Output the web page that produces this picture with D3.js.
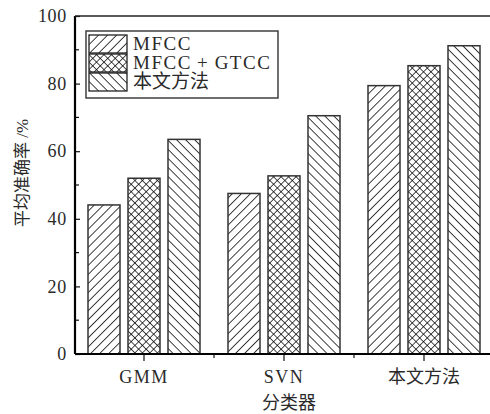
<!DOCTYPE html>
<html>
<head>
<meta charset="utf-8">
<style>
  body { margin: 0; background: #fff; }
  text { font-family: "Liberation Serif", "Noto Sans CJK SC", serif; fill: #2a2a2a; }
</style>
<script src="https://d3js.org/d3.v7.min.js"></script>
</head>
<body>
<svg></svg>
<script>
const categories = ['GMM', 'SVN', '本文方法'];
const series = ['MFCC', 'MFCC\u2009+\u2009GTCC', '本文方法'];
const mfcc = [44.1, 47.5, 79.4];
const mfccGtcc = [52.0, 52.7, 85.3];
const ours = [63.5, 70.5, 91.2];
const yTicks = [0, 20, 40, 60, 80, 100];
const yMinor = [10, 30, 50, 70, 90];
const values = [mfcc, mfccGtcc, ours];

const width = 490, height = 414;
const mLeft = 75, mTop = 16, mBottom = 354, mRight = 494;

const svg = d3.select('svg').attr('width', width).attr('height', height);

// hatch patterns
const defs = svg.append('defs');
function hatch(id, angle, size, sw, cross) {
  const p = defs.append('pattern')
    .attr('id', id)
    .attr('patternUnits', 'userSpaceOnUse')
    .attr('width', size).attr('height', size)
    .attr('patternTransform', 'rotate(' + angle + ')');
  p.append('rect').attr('width', size).attr('height', size).attr('fill', '#fff');
  p.append('line').attr('x1', 0).attr('y1', 0).attr('x2', 0).attr('y2', size)
    .attr('stroke', '#000').attr('stroke-width', sw);
  if (cross) {
    p.append('line').attr('x1', 0).attr('y1', 0).attr('x2', size).attr('y2', 0)
      .attr('stroke', '#000').attr('stroke-width', sw);
  }
}
hatch('p0', 45, 6.4, 1.5, false);
hatch('p1', 45, 5.3, 1.4, true);
hatch('p2', -45, 6.4, 1.5, false);
const fills = ['url(#p0)', 'url(#p1)', 'url(#p2)'];

const y = d3.scaleLinear().domain([0, 100]).range([mBottom, mTop]);
const x0 = d3.scaleBand().domain(categories).range([mLeft - 1, mRight]);
const x1 = d3.scaleBand().domain(series).range([-60, 60]).paddingInner(0.2).paddingOuter(0.1);

// bars
categories.forEach((c, ci) => {
  const cx = x0(c) + x0.bandwidth() / 2;
  svg.append('g').selectAll('rect')
    .data(series)
    .join('rect')
    .attr('x', s => cx + x1(s))
    .attr('y', (s, si) => y(values[si][ci]))
    .attr('width', x1.bandwidth())
    .attr('height', (s, si) => mBottom - y(values[si][ci]))
    .attr('fill', (s, si) => fills[si])
    .attr('stroke', '#333')
    .attr('stroke-width', 1.5);
});

// y axis
const yAxis = d3.axisLeft(y).tickValues(yTicks).tickSize(-5).tickPadding(8);
const gy = svg.append('g').attr('transform', 'translate(' + mLeft + ',0)').call(yAxis);
gy.select('.domain').remove();
gy.selectAll('.tick line').attr('stroke', '#111').attr('stroke-width', 1.2);
gy.selectAll('.tick text').attr('font-size', 18).attr('fill', '#2a2a2a')
  .attr('letter-spacing', 0.7)
  .style('font-family', '"Liberation Serif", serif');
svg.append('g').selectAll('line').data(yMinor).join('line')
  .attr('x1', mLeft).attr('x2', mLeft + 4)
  .attr('y1', d => y(d)).attr('y2', d => y(d))
  .attr('stroke', '#111').attr('stroke-width', 1.2);

// x axis
const xAxis = d3.axisBottom(x0).tickSize(7).tickPadding(9);
const gx = svg.append('g').attr('transform', 'translate(0,' + mBottom + ')').call(xAxis);
gx.select('.domain').remove();
gx.selectAll('.tick line').attr('stroke', '#111').attr('stroke-width', 1.2);
gx.selectAll('.tick text').attr('font-size', 18).attr('fill', '#2a2a2a')
  .attr('letter-spacing', d => d === 'GMM' || d === 'SVN' ? 1.5 : 0)
  .style('font-family', '"Liberation Serif", "Noto Sans CJK SC", serif');

svg.append('g').selectAll('line').data(categories.slice(1)).join('line')
  .attr('x1', d => x0(d)).attr('x2', d => x0(d))
  .attr('y1', mBottom).attr('y2', mBottom + 4)
  .attr('stroke', '#111').attr('stroke-width', 1.2);

// frame
svg.append('line').attr('x1', mLeft).attr('x2', mRight).attr('y1', mBottom).attr('y2', mBottom)
  .attr('stroke', '#000').attr('stroke-width', 2.2);
svg.append('line').attr('x1', mLeft).attr('x2', mLeft).attr('y1', mTop).attr('y2', mBottom)
  .attr('stroke', '#000').attr('stroke-width', 2.2);
svg.append('line').attr('x1', mLeft).attr('x2', mRight).attr('y1', mTop).attr('y2', mTop)
  .attr('stroke', '#222').attr('stroke-width', 1.4);

// axis titles
svg.append('text')
  .attr('transform', 'translate(28,173) rotate(-90)')
  .attr('text-anchor', 'middle')
  .attr('font-size', 17)
  .text('平均准确率 /%');
svg.append('text')
  .attr('x', 289).attr('y', 409)
  .attr('text-anchor', 'middle')
  .attr('font-size', 18)
  .text('分类器');

// legend
const lg = svg.append('g');
lg.append('rect').attr('x', 86).attr('y', 31).attr('width', 192).attr('height', 67)
  .attr('fill', '#fff').attr('stroke', '#333').attr('stroke-width', 1.4);
const rows = lg.selectAll('g.row').data(series).join('g').attr('class', 'row')
  .attr('transform', (d, i) => 'translate(89,' + (35 + i * 19) + ')');
rows.append('rect').attr('width', 38).attr('height', 18)
  .attr('fill', (d, i) => fills[i]).attr('stroke', '#222').attr('stroke-width', 1.3);
rows.append('text').attr('x', 44).attr('y', 15).attr('font-size', 19)
  .attr('letter-spacing', (d, i) => i < 2 ? 1.5 : 0)
  .text(d => d);
</script>
</body>
</html>
